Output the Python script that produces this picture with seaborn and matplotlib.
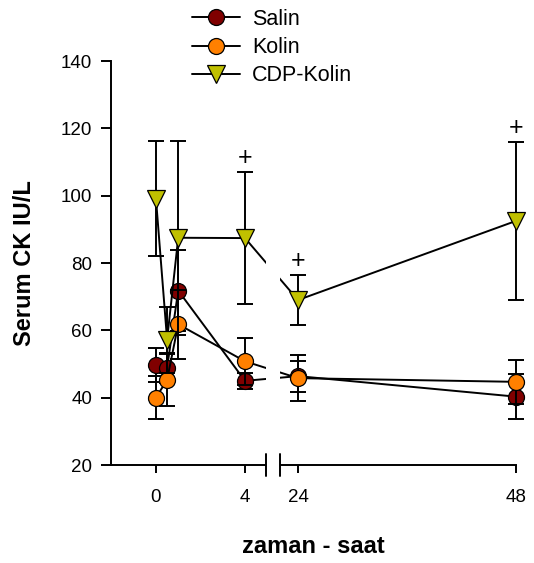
import numpy as np
import pandas as pd
import matplotlib
matplotlib.use("Agg")
import matplotlib.pyplot as plt
import matplotlib.transforms as mtrans
from matplotlib.lines import Line2D
from matplotlib.patches import Rectangle
import seaborn as sns

# ---------------- data ----------------
groups = ["Salin", "Kolin", "CDP-Kolin"]
time_h = [0, 0.5, 1, 4, 24, 48]
salin_mean = [49.7, 48.9, 71.8, 45.0, 46.4, 40.3]
salin_sd = [5.0, 4.5, 12.0, 2.4, 4.6, 6.7]
kolin_mean = [40.0, 45.3, 61.8, 50.8, 45.8, 44.7]
kolin_sd = [6.4, 7.8, 10.3, 7.0, 6.9, 6.6]
cdp_mean = [99.1, 57.2, 87.5, 87.4, 69.0, 92.5]
cdp_sd = [17.0, 9.8, 28.8, 19.7, 7.4, 23.5]
sig_times = [4, 24, 48]          # CDP-Kolin points marked with '+'
xtick_vals = [0, 4, 24, 48]
xtick_labels = ["0", "4", "24", "48"]
ytick_vals = [20, 40, 60, 80, 100, 120, 140]
xlabel = "zaman - saat"
ylabel = "Serum CK IU/L"

rows = []
for g, m, s in zip(groups, [salin_mean, kolin_mean, cdp_mean], [salin_sd, kolin_sd, cdp_sd]):
    for t, mv, sv in zip(time_h, m, s):
        rows.append({"group": g, "time": t, "mean": mv, "sd": sv})
df = pd.DataFrame(rows)

# ---------------- style ----------------
sns.set_style("ticks")
plt.rcParams["font.family"] = ["Liberation Sans", "DejaVu Sans"]
plt.rcParams["text.color"] = "black"
plt.rcParams["axes.labelcolor"] = "black"
plt.rcParams["xtick.color"] = "black"
plt.rcParams["ytick.color"] = "black"

colors = {"Salin": "#800000", "Kolin": "#ff8000", "CDP-Kolin": "#c0c000"}
markers = {"Salin": "o", "Kolin": "o", "CDP-Kolin": "v"}
msize = {"Salin": 11.5, "Kolin": 11.5, "CDP-Kolin": 12.5}
LW = 1.4

W, H = 534, 563
fig = plt.figure(figsize=(W / 100, H / 100), dpi=100)
ax = fig.add_axes([111 / W, 98 / H, 405 / W, 404 / H])

# broken x axis: piecewise-linear scale
T_KNOTS = np.array([-100.0, 4.94, 22.02, 200.0])
U_KNOTS = np.array([-100 * 22.25, 4.94 * 22.25, 124.0, 124.0 + 9.08 * (200 - 22.02)])


def fwd(t):
    return np.interp(t, T_KNOTS, U_KNOTS)


def inv(u):
    return np.interp(u, U_KNOTS, T_KNOTS)


ax.set_xscale("function", functions=(fwd, inv))
ax.set_xlim(-2.02, 48)
ax.set_ylim(20, 140)

for i, g in enumerate(groups):
    sub = df[df["group"] == g]
    z = 3 + 3 * i
    ax.errorbar(sub["time"], sub["mean"], yerr=sub["sd"], fmt="none", ecolor="black",
                elinewidth=LW, capsize=6, capthick=LW, zorder=z, clip_on=False)
    sns.lineplot(data=sub, x="time", y="mean", ax=ax, color="black", linewidth=LW,
                 marker=markers[g], markersize=msize[g], markerfacecolor=colors[g],
                 markeredgecolor="black", markeredgewidth=0.9, errorbar=None,
                 legend=False, zorder=z + 1, clip_on=False)

# significance marks above CDP-Kolin error bars
cdp = df[df["group"] == "CDP-Kolin"].set_index("time")
for t in sig_times:
    ax.annotate("+", xy=(t, cdp.loc[t, "mean"] + cdp.loc[t, "sd"]), xytext=(0, 10),
                textcoords="offset points", ha="center", va="center", fontsize=18,
                color="black", annotation_clip=False, zorder=30)

# gap of the axis break
blend = mtrans.blended_transform_factory(ax.transData, ax.transAxes)
ax.add_patch(Rectangle((4.94, -0.02), 22.02 - 4.94, 1.05, transform=blend,
                       facecolor="white", edgecolor="none", zorder=20, clip_on=False))
for xb in (4.94, 22.02):
    ax.add_line(Line2D([xb, xb], [-0.026, 0.026], transform=blend, color="black",
                       lw=LW, zorder=21, clip_on=False))

ax.set_xticks(xtick_vals)
ax.set_xticklabels(xtick_labels)
ax.set_yticks(ytick_vals)
ax.minorticks_off()
sns.despine(ax=ax)
for sp in ("left", "bottom"):
    ax.spines[sp].set_linewidth(LW)
    ax.spines[sp].set_color("black")
ax.tick_params(axis="y", direction="out", length=7.5, width=LW, pad=6,
               labelsize=13.5, colors="black")
ax.tick_params(axis="x", direction="out", length=6, width=LW, pad=11,
               labelsize=13.5, colors="black")

ax.set_xlabel(xlabel, fontsize=17, fontweight="bold", labelpad=21, color="black")
ax.set_ylabel(ylabel, fontsize=17, fontweight="bold", labelpad=18, color="black")

handles = [Line2D([], [], color="black", lw=LW, marker=markers[g], markersize=msize[g],
                  markerfacecolor=colors[g], markeredgecolor="black", markeredgewidth=0.9)
           for g in groups]
leg = fig.legend(handles, groups, loc="upper left", bbox_to_anchor=(192 / W, 1 - 9 / H),
                 frameon=False, fontsize=15.5, handlelength=2.23, handletextpad=0.56,
                 labelspacing=0.33, borderpad=0, borderaxespad=0)
for txt in leg.get_texts():
    txt.set_color("black")

fig.savefig("out.png", dpi=100)
